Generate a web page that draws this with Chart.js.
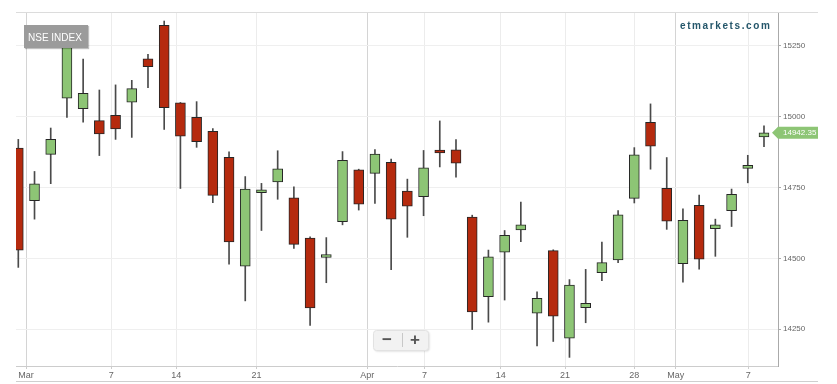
<!DOCTYPE html>
<html><head><meta charset="utf-8">
<script src="https://cdn.jsdelivr.net/npm/chart.js@4.4.1/dist/chart.umd.min.js"></script>
<style>html,body{margin:0;padding:0;background:#fff}canvas{display:block}</style>
</head><body>
<canvas id="c" width="837" height="384" style="width:837px;height:384px"></canvas>
<script>
// ---- data (NSE index daily OHLC) ----
const dates = ['2021-02-26','2021-03-01','2021-03-02','2021-03-03','2021-03-04','2021-03-05','2021-03-08','2021-03-09','2021-03-10','2021-03-12',
  '2021-03-15','2021-03-16','2021-03-17','2021-03-18','2021-03-19','2021-03-22','2021-03-23','2021-03-24','2021-03-25','2021-03-26',
  '2021-03-30','2021-03-31','2021-04-01','2021-04-05','2021-04-06','2021-04-07','2021-04-08','2021-04-09','2021-04-12','2021-04-13',
  '2021-04-15','2021-04-16','2021-04-19','2021-04-20','2021-04-22','2021-04-23','2021-04-26','2021-04-27','2021-04-28','2021-04-29',
  '2021-04-30','2021-05-03','2021-05-04','2021-05-05','2021-05-06','2021-05-07','2021-05-10'];
const open  = [14888,14703,14866,15064,15027,14985,15004,15050,15203,15321,15048,14997,14947,14856,14472,14731,14769,14713,14571,14503,
  14629,14812,14799,14838,14737,14717,14876,14882,14645,14365,14522,14600,14307,14527,14219,14326,14449,14494,14711,14979,
  14747,14481,14687,14604,14668,14817,14928];
const high  = [14919,14806,14959,15273,15202,15093,15111,15127,15219,15336,15049,15052,14957,14875,14788,14764,14879,14752,14576,14573,
  14876,14814,14883,14850,14779,14880,14984,14918,14652,14529,14598,14698,14382,14530,14425,14461,14557,14668,14890,15044,
  14855,14674,14723,14638,14744,14863,14967];
const low   = [14468,14638,14763,14996,14980,14862,14919,14926,15101,14954,14746,14891,14696,14479,14350,14598,14708,14535,14264,14414,
  14618,14670,14693,14460,14574,14650,14822,14786,14249,14275,14353,14559,14191,14207,14151,14273,14421,14485,14695,14814,
  14602,14416,14462,14507,14612,14766,14893];
const close = [14529,14762,14919,15245,15081,14938,14956,15098,15175,15031,14930,14911,14722,14558,14744,14736,14815,14549,14325,14507,
  14845,14691,14867,14638,14684,14819,14871,14835,14311,14505,14581,14618,14359,14296,14406,14341,14485,14653,14865,14895,
  14631,14634,14497,14618,14725,14823,14942.35];
const xTickValues = [0.475, 5.74, 9.75, 14.69, 21.53, 25.05, 29.76, 33.73, 38.0, 40.56, 45.03];
const xTickLabels = ['Mar','7','14','21','Apr','7','14','21','28','May','7'];
const yTickValues = [14250, 14500, 14750, 15000, 15250];
const seriesName = 'NSE INDEX';
const watermarkText = 'etmarkets.com';

// ---- build datasets ----
const UP = '#8dc575', DOWN = '#b52a0e';
const bodies = dates.map((d, i) => ({x: i, y: [open[i], close[i]]}));
const wicks = dates.map((d, i) => ({x: i, y: [low[i], high[i]]}));
const fills = dates.map((d, i) => close[i] >= open[i] ? UP : DOWN);
const FONT = '"Liberation Sans", Arial, sans-serif';

const decor = {
  id: 'decor',
  afterDraw(chart) {
    const ctx = chart.ctx, a = chart.chartArea, y = chart.scales.y;
    ctx.save();
    // top and bottom frame lines
    ctx.strokeStyle = '#dcdcdc'; ctx.lineWidth = 1;
    ctx.beginPath(); ctx.moveTo(a.left, 12.5); ctx.lineTo(818, 12.5); ctx.stroke();
    ctx.strokeStyle = '#cfcfcf';
    ctx.beginPath(); ctx.moveTo(a.left, 381.5); ctx.lineTo(818, 381.5); ctx.stroke();

    // series label box
    ctx.shadowColor = 'rgba(0,0,0,0.25)'; ctx.shadowOffsetX = 1; ctx.shadowOffsetY = 1; ctx.shadowBlur = 1;
    ctx.fillStyle = '#9b9b9b';
    ctx.fillRect(24, 25, 64, 23);
    ctx.shadowColor = 'transparent';
    ctx.fillStyle = '#ffffff'; ctx.font = '10px ' + FONT; ctx.textBaseline = 'alphabetic'; ctx.textAlign = 'left';
    ctx.fillText(seriesName, 28, 41);

    // watermark
    ctx.fillStyle = '#24566a'; ctx.font = 'bold 10px ' + FONT;
    let wx = 680;
    for (const ch of watermarkText) { ctx.fillText(ch, wx, 28.5); wx += ctx.measureText(ch).width + 1.6; }

    // last price tag
    const last = close[close.length - 1];
    const py = y.getPixelForValue(last);
    ctx.fillStyle = '#8dc575';
    ctx.beginPath();
    ctx.moveTo(772, py); ctx.lineTo(778, py - 6); ctx.lineTo(818, py - 6); ctx.lineTo(818, py + 6); ctx.lineTo(778, py + 6);
    ctx.closePath(); ctx.fill();
    ctx.fillStyle = '#ffffff'; ctx.font = '8px ' + FONT; ctx.textBaseline = 'middle';
    ctx.fillText(last.toFixed(2), 783, py + 0.5);

    // zoom buttons
    ctx.shadowColor = 'rgba(0,0,0,0.15)'; ctx.shadowOffsetY = 1; ctx.shadowBlur = 2;
    ctx.fillStyle = '#f2f2f2';
    ctx.beginPath(); ctx.roundRect(373.5, 330.5, 55, 20, 3); ctx.fill();
    ctx.shadowColor = 'transparent';
    ctx.strokeStyle = '#e2e2e2'; ctx.stroke();
    ctx.strokeStyle = '#c8c8c8';
    ctx.beginPath(); ctx.moveTo(402.5, 333); ctx.lineTo(402.5, 347); ctx.stroke();
    ctx.fillStyle = '#555555'; ctx.font = 'bold 17px ' + FONT; ctx.textAlign = 'center'; ctx.textBaseline = 'middle';
    ctx.fillText('\u2212', 387, 340);
    ctx.fillText('+', 415, 340);
    ctx.restore();
  }
};

new Chart(document.getElementById('c'), {
  type: 'bar',
  data: {
    datasets: [
      { label: 'body', data: bodies, backgroundColor: fills, borderColor: '#262626', borderWidth: 1,
        borderSkipped: false, barThickness: 10, minBarLength: 3, grouped: false, order: 0 },
      { label: 'wick', data: wicks, backgroundColor: '#4a4a4a', borderWidth: 0,
        barThickness: 1, grouped: false, order: 1 }
    ]
  },
  options: {
    responsive: false, animation: false, devicePixelRatio: 1, events: [],
    layout: { padding: { left: 16, top: 12, right: 0, bottom: 0 } },
    plugins: { legend: { display: false }, tooltip: { enabled: false } },
    scales: {
      x: {
        type: 'linear', offset: false, min: -0.142, max: 46.864,
        afterBuildTicks: s => { s.ticks = xTickValues.map(v => ({ value: v })); },
        afterFit: s => { s.height = 18; },
        grid: { offset: false, tickLength: 3,
          color: c => (c.index !== undefined && isNaN(+xTickLabels[c.index])) ? '#d4d4d4' : '#ececec',
          tickColor: '#cccccc' },
        border: { color: '#cccccc' },
        ticks: { autoSkip: false, maxRotation: 0, padding: 1, color: '#666666', font: { size: 9, family: FONT },
          callback: (v, i) => xTickLabels[i] }
      },
      y: {
        position: 'right', min: 14120.6, max: 15367.8,
        afterBuildTicks: s => { s.ticks = yTickValues.map(v => ({ value: v })); },
        afterFit: s => { s.width = 59; },
        grid: { color: '#efefef', tickLength: 3, tickColor: '#aaaaaa' },
        border: { color: '#aaaaaa' },
        ticks: { padding: 2, color: '#666666', font: { size: 8, family: FONT }, callback: v => String(v) }
      }
    }
  },
  plugins: [decor]
});
</script>
</body></html>
